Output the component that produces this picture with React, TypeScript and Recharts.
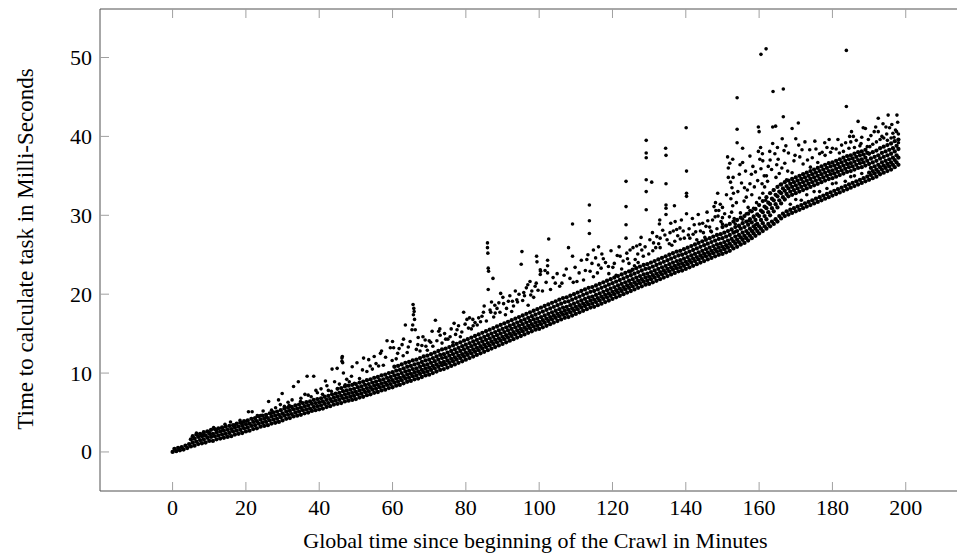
import React from 'react';
import { ScatterChart, Scatter, XAxis, YAxis } from 'recharts';

// ---- axis ticks ----
const xTicks = [0, 20, 40, 60, 80, 100, 120, 140, 160, 180, 200];
const yTicks = [0, 10, 20, 30, 40, 50];
const xDomain: [number, number] = [-19.8, 217.8];
const yDomain: [number, number] = [-4.95, 56.15];

const xTitle = 'Global time since beginning of the Crawl in Minutes';
const yTitle = 'Time to calculate task in Milli-Seconds';

// ---- sample grids (minutes) ----
const minutesWhole = [
  0,1,2,3,4,5,6,7,8,9,10,11,12,13,14,15,16,17,18,19,20,21,22,23,24,25,26,27,28,29,
  30,31,32,33,34,35,36,37,38,39,40,41,42,43,44,45,46,47,48,49,50,51,52,53,54,55,56,57,58,59,
  60,61,62,63,64,65,66,67,68,69,70,71,72,73,74,75,76,77,78,79,80,81,82,83,84,85,86,87,88,89,
  90,91,92,93,94,95,96,97,98,99,100,101,102,103,104,105,106,107,108,109,110,111,112,113,114,115,116,117,118,119,
  120,121,122,123,124,125,126,127,128,129,130,131,132,133,134,135,136,137,138,139,140,141,142,143,144,145,146,147,148,149,
  150,151,152,153,154,155,156,157,158,159,160,161,162,163,164,165,166,167,168,169,170,171,172,173,174,175,176,177,178,179,
  180,181,182,183,184,185,186,187,188,189,190,191,192,193,194,195,196,197,198,
];
const minutesHalf = [
  0.5,1.5,2.5,3.5,4.5,5.5,6.5,7.5,8.5,9.5,10.5,11.5,12.5,13.5,14.5,15.5,16.5,17.5,18.5,19.5,
  20.5,21.5,22.5,23.5,24.5,25.5,26.5,27.5,28.5,29.5,30.5,31.5,32.5,33.5,34.5,35.5,36.5,37.5,38.5,39.5,
  40.5,41.5,42.5,43.5,44.5,45.5,46.5,47.5,48.5,49.5,50.5,51.5,52.5,53.5,54.5,55.5,56.5,57.5,58.5,59.5,
  60.5,61.5,62.5,63.5,64.5,65.5,66.5,67.5,68.5,69.5,70.5,71.5,72.5,73.5,74.5,75.5,76.5,77.5,78.5,79.5,
  80.5,81.5,82.5,83.5,84.5,85.5,86.5,87.5,88.5,89.5,90.5,91.5,92.5,93.5,94.5,95.5,96.5,97.5,98.5,99.5,
  100.5,101.5,102.5,103.5,104.5,105.5,106.5,107.5,108.5,109.5,110.5,111.5,112.5,113.5,114.5,115.5,116.5,117.5,118.5,119.5,
  120.5,121.5,122.5,123.5,124.5,125.5,126.5,127.5,128.5,129.5,130.5,131.5,132.5,133.5,134.5,135.5,136.5,137.5,138.5,139.5,
  140.5,141.5,142.5,143.5,144.5,145.5,146.5,147.5,148.5,149.5,150.5,151.5,152.5,153.5,154.5,155.5,156.5,157.5,158.5,159.5,
  160.5,161.5,162.5,163.5,164.5,165.5,166.5,167.5,168.5,169.5,170.5,171.5,172.5,173.5,174.5,175.5,176.5,177.5,178.5,179.5,
  180.5,181.5,182.5,183.5,184.5,185.5,186.5,187.5,188.5,189.5,190.5,191.5,192.5,193.5,194.5,195.5,196.5,197.5,
];

// ---- dense band, read as strands (ms) ----
const bandA = [ // on minutesWhole from 0
  0.0,0.1,0.2,0.3,0.5,0.7,0.8,1.0,1.1,1.2,
  1.4,1.4,1.6,1.7,1.8,1.9,2.0,2.2,2.3,2.4,
  2.6,2.7,2.9,3.0,3.2,3.3,3.4,3.6,3.7,3.8,
  4.0,4.2,4.3,4.5,4.6,4.7,4.9,5.0,5.2,5.3,
  5.4,5.5,5.7,5.8,6.0,6.1,6.2,6.4,6.5,6.6,
  6.7,6.9,7.0,7.2,7.3,7.5,7.6,7.8,7.9,8.1,
  8.2,8.4,8.5,8.7,8.9,9.0,9.2,9.3,9.5,9.7,
  9.8,10.0,10.2,10.4,10.5,10.7,10.9,11.1,11.3,11.5,
  11.7,11.9,12.1,12.3,12.5,12.7,12.9,13.1,13.3,13.5,
  13.7,13.9,14.1,14.3,14.5,14.7,14.9,15.1,15.3,15.5,
  15.6,15.8,16.0,16.2,16.4,16.6,16.8,17.0,17.1,17.3,
  17.5,17.7,17.9,18.1,18.3,18.4,18.6,18.8,19.0,19.2,
  19.4,19.6,19.8,20.0,20.2,20.4,20.6,20.8,21.0,21.2,
  21.3,21.5,21.7,21.9,22.1,22.3,22.5,22.7,22.9,23.0,
  23.2,23.4,23.6,23.8,24.0,24.2,24.4,24.6,24.8,25.0,
  25.1,25.3,25.5,25.8,26.0,26.3,26.5,26.8,27.1,27.4,
  27.7,28.0,28.3,28.6,28.9,29.2,29.6,29.9,30.1,30.3,
  30.5,30.7,30.9,31.1,31.3,31.5,31.7,31.9,32.1,32.3,
  32.5,32.7,32.9,33.1,33.3,33.5,33.7,33.9,34.1,34.3,
  34.5,34.7,34.9,35.2,35.4,35.6,35.8,36.1,36.4,
];
const bandB = [ // on minutesHalf from 0.5
  0.4,0.5,0.6,0.8,1.0,1.2,1.3,1.5,1.6,1.8,
  1.9,2.0,2.1,2.2,2.3,2.4,2.6,2.7,2.8,3.0,
  3.1,3.3,3.4,3.6,3.7,3.8,4.0,4.1,4.2,4.4,
  4.6,4.7,4.8,5.0,5.1,5.3,5.4,5.5,5.7,5.8,
  5.9,6.1,6.2,6.4,6.5,6.6,6.8,6.9,7.0,7.1,
  7.3,7.4,7.6,7.7,7.9,8.0,8.2,8.3,8.5,8.6,
  8.8,8.9,9.1,9.3,9.4,9.6,9.7,9.9,10.1,10.2,
  10.4,10.6,10.8,11.0,11.1,11.3,11.5,11.7,11.9,12.1,
  12.3,12.5,12.7,12.9,13.1,13.3,13.5,13.7,13.9,14.1,
  14.3,14.5,14.7,14.9,15.1,15.3,15.5,15.7,15.9,16.0,
  16.2,16.4,16.6,16.8,17.0,17.2,17.4,17.5,17.7,17.9,
  18.1,18.3,18.5,18.7,18.8,19.0,19.2,19.4,19.6,19.8,
  20.0,20.2,20.4,20.6,20.8,21.0,21.2,21.4,21.6,21.7,
  21.9,22.1,22.3,22.5,22.7,22.9,23.1,23.3,23.4,23.6,
  23.8,24.0,24.2,24.4,24.6,24.8,25.0,25.2,25.4,25.5,
  25.7,25.9,26.1,26.4,26.6,26.9,27.1,27.4,27.7,28.0,
  28.3,28.6,28.9,29.2,29.5,29.9,30.2,30.5,30.7,30.9,
  31.1,31.3,31.5,31.7,31.9,32.1,32.3,32.5,32.7,32.9,
  33.1,33.3,33.5,33.7,33.9,34.1,34.3,34.5,34.7,34.9,
  35.1,35.3,35.5,35.8,36.0,36.2,36.4,36.7,
];
const bandC = [ // on minutesWhole from 5
  1.6,1.7,1.9,2.0,2.1,2.3,2.3,2.5,2.6,2.7,
  2.8,2.9,3.1,3.2,3.3,3.5,3.6,3.8,3.9,4.1,
  4.2,4.3,4.5,4.6,4.7,4.9,5.1,5.2,5.4,5.5,
  5.6,5.8,5.9,6.1,6.2,6.3,6.4,6.6,6.7,6.9,
  7.0,7.1,7.3,7.4,7.5,7.6,7.8,7.9,8.1,8.2,
  8.4,8.5,8.7,8.8,9.0,9.1,9.3,9.4,9.6,9.8,
  9.9,10.1,10.2,10.4,10.6,10.7,10.9,11.1,11.3,11.4,
  11.6,11.8,12.0,12.2,12.4,12.6,12.8,13.0,13.2,13.4,
  13.6,13.8,14.0,14.2,14.4,14.6,14.8,15.0,15.2,15.4,
  15.6,15.8,16.0,16.2,16.4,16.5,16.7,16.9,17.1,17.3,
  17.5,17.7,17.9,18.0,18.2,18.4,18.6,18.8,19.0,19.2,
  19.3,19.5,19.7,19.9,20.1,20.3,20.5,20.7,20.9,21.1,
  21.3,21.5,21.7,21.9,22.1,22.2,22.4,22.6,22.8,23.0,
  23.2,23.4,23.6,23.8,23.9,24.1,24.3,24.5,24.7,24.9,
  25.1,25.3,25.5,25.7,25.9,26.0,26.2,26.4,26.7,26.9,
  27.2,27.4,27.7,28.0,28.3,28.6,29.0,29.5,30.0,30.5,
  31.0,31.5,32.0,32.4,32.6,32.8,33.0,33.2,33.4,33.6,
  33.8,34.0,34.2,34.4,34.6,34.7,34.9,35.1,35.3,35.5,
  35.6,35.8,36.0,36.1,36.3,35.4,35.6,35.8,36.1,36.3,
  36.5,36.7,37.0,37.3,
];
const bandD = [ // on minutesHalf from 5.5
  2.0,2.2,2.3,2.5,2.6,2.8,2.9,3.0,3.1,3.2,
  3.3,3.4,3.6,3.7,3.9,4.0,4.2,4.3,4.5,4.6,
  4.7,4.9,5.0,5.1,5.3,5.5,5.6,5.7,5.9,6.0,
  6.2,6.3,6.4,6.6,6.7,6.8,7.0,7.1,7.3,7.4,
  7.5,7.7,7.8,7.9,8.0,8.2,8.3,8.5,8.6,8.8,
  8.9,9.1,9.2,9.4,9.5,9.7,9.8,10.0,10.2,10.3,
  10.5,10.6,10.8,11.0,11.1,11.3,11.5,11.7,11.9,12.0,
  12.2,12.4,12.6,12.8,13.0,13.2,13.4,13.6,13.8,14.0,
  14.2,14.4,14.6,14.8,15.0,15.2,15.4,15.6,15.8,16.0,
  16.2,16.4,16.6,16.8,16.9,17.1,17.3,17.5,17.7,17.9,
  18.1,18.3,18.4,18.6,18.8,19.0,19.2,19.4,19.6,19.7,
  19.9,20.1,20.3,20.5,20.7,20.9,21.1,21.3,21.5,21.7,
  21.9,22.1,22.3,22.5,22.6,22.8,23.0,23.2,23.4,23.6,
  23.8,24.0,24.2,24.3,24.5,24.7,24.9,25.1,25.3,25.5,
  25.7,25.9,26.1,26.3,26.4,26.6,26.8,27.0,27.3,27.5,
  27.8,28.0,28.3,28.6,28.9,29.4,29.9,30.4,30.9,31.4,
  31.9,32.3,32.7,33.0,33.2,33.4,33.6,33.8,34.0,34.2,
  34.4,34.6,34.8,35.0,35.2,35.3,35.5,35.7,35.9,36.1,
  36.2,36.4,36.6,36.7,36.9,36.0,36.2,36.4,36.7,36.9,
  37.1,37.3,37.6,
];
const bandE = [ // on minutesWhole from 45
  8.0,8.1,8.3,8.4,8.5,8.6,8.8,8.9,9.1,9.2,
  9.4,9.5,9.7,9.8,10.0,10.1,10.3,10.4,10.6,10.8,
  10.9,11.1,11.2,11.4,11.6,11.7,11.9,12.1,12.3,12.4,
  12.6,12.8,13.0,13.2,13.4,13.6,13.8,14.0,14.2,14.4,
  14.6,14.8,15.0,15.2,15.4,15.6,15.8,16.0,16.2,16.4,
  16.6,16.8,17.0,17.2,17.4,17.6,17.8,18.0,18.2,18.4,
  18.6,18.8,19.0,19.1,19.3,19.5,19.7,19.9,20.1,20.3,
  20.4,20.6,20.8,21.0,21.2,21.4,21.6,21.8,22.0,22.2,
  22.4,22.6,22.8,23.0,23.2,23.3,23.5,23.7,23.9,24.1,
  24.3,24.5,24.7,24.9,25.0,25.2,25.4,25.6,25.8,26.0,
  26.2,26.4,26.6,26.8,27.0,27.1,27.3,27.5,27.8,28.0,
  28.3,28.5,28.8,29.1,29.4,29.9,30.4,30.9,31.4,31.9,
  32.4,32.8,33.1,33.4,33.6,33.8,34.0,34.2,34.4,34.6,
  34.8,35.0,35.2,35.4,35.6,35.7,35.9,36.1,36.3,36.5,
  36.6,36.8,37.0,37.1,37.3,36.5,36.7,36.9,37.2,37.4,
  37.6,37.8,38.1,38.4,
];
const bandF = [ // on minutesHalf from 60.5
  10.8,10.9,11.1,11.3,11.4,11.6,11.7,11.9,12.1,12.2,
  12.4,12.6,12.8,13.0,13.1,13.3,13.5,13.7,13.9,14.1,
  14.3,14.5,14.7,14.9,15.1,15.3,15.5,15.7,15.9,16.1,
  16.3,16.5,16.7,16.9,17.1,17.3,17.5,17.7,17.9,18.1,
  18.3,18.5,18.7,18.9,19.1,19.3,19.5,19.6,19.8,20.0,
  20.2,20.4,20.6,20.8,20.9,21.1,21.3,21.5,21.7,21.9,
  22.1,22.3,22.5,22.7,22.9,23.1,23.3,23.5,23.7,23.8,
  24.0,24.2,24.4,24.6,24.8,25.0,25.2,25.4,25.5,25.7,
  25.9,26.1,26.3,26.5,26.7,26.9,27.1,27.3,27.5,27.6,
  27.8,28.0,28.2,28.5,28.7,29.0,29.2,29.5,29.8,30.1,
  30.6,31.1,31.6,32.1,32.6,33.0,33.4,33.7,34.0,34.2,
  34.4,34.6,34.8,35.0,35.2,35.4,35.6,35.8,36.0,36.2,
  36.3,36.5,36.7,36.9,37.1,37.2,37.4,37.6,37.7,37.9,
  37.2,37.4,37.6,37.9,38.1,38.3,38.5,38.8,
];
const bandG = [ // on minutesWhole from 150
  28.5,28.7,28.9,29.2,29.4,29.7,29.9,30.2,30.5,30.8,
  31.3,31.8,32.3,32.8,33.2,33.6,33.9,34.2,34.4,34.6,
  34.8,35.0,35.2,35.4,35.6,35.8,36.0,36.2,36.4,36.6,
  36.7,36.9,37.1,37.3,37.5,37.6,37.8,38.0,38.1,38.3,
  37.8,38.0,38.2,38.5,38.7,38.9,39.1,39.4,39.6,
];

// ---- scattered points around and above the band: [minute, ms] ----
const scatteredEarly: [number, number][] = [
  [6.5,2.4],[8.5,2.2],[10,2.5],[12,2.8],[13.5,3.0],[15.8,3.8],[17,3.4],[19,3.6],[20.7,5.1],[21.7,5.1],
  [22.5,4.2],[24,4.6],[25.5,4.5],[26.2,6.4],[27,5.3],[28.9,6.6],[29.9,7.4],[30.5,5.8],[31.5,6.3],[33,8.3],
  [34.3,8.9],[35,6.8],[36.7,9.6],[37,7.2],[38.5,9.6],[39.5,7.5],[40.5,8.0],[41.7,9.0],[42.5,7.8],[43.5,10.5],
  [44.9,10.6],[45.5,8.6],[46.2,11.5],[46.2,11.9],[46.3,12.1],[46.4,11.3],[46.6,10.0],[47.5,9.2],[48.2,8.9],[49,10.8],
  [50.3,11.3],[51,9.3],
  [11.2,3.1],[14.3,3.5],[16.8,3.2],[18.4,4.0],[20.2,3.9],[23.1,4.6],[24.7,5.2],[26.9,4.9],[28.1,5.6],[29.4,6.0],
  [31.8,5.9],[32.6,6.6],[34.9,6.4],[36.1,7.3],[37.8,7.0],[39.1,7.8],[40.9,7.3],[42.1,8.4],[43.3,7.7],[44.2,8.9],
  [47.1,8.5],[48.8,9.6],[49.6,8.7],
];
const scatteredMid: [number, number][] = [
  [52.1,11.9],[53,10.2],[53.5,11.7],[54.5,10.5],[55,12.1],[55.5,11.2],[56.7,12.5],[57,12.8],[57.5,11.0],[58.5,14.1],
  [59.4,13.2],[60,14.0],[60.3,13.2],[61,11.8],[61.8,13.1],[62.6,13.6],[63,14.3],[63.5,16.1],[64,12.6],[64.8,14.0],
  [65.3,15.5],[65.5,16.1],[65.6,18.7],[65.8,18.2],[65.9,17.8],[65.7,17.4],[66,16.8],[66.2,15.5],[66.5,13.0],[67,14.5],
  [67.5,12.8],[68,13.5],[68.9,14.2],[69.5,12.9],[70,14.1],[70.8,15.3],[71,13.4],[71.7,16.7],[72.6,15.3],[73,14.8],
  [73.5,13.8],[74.5,14.3],[75.7,14.6],[76,15.6],[76.5,13.9],[77.6,15.5],[78,16.0],[78.5,14.6],[79.4,17.7],[79.8,16.2],
  [80.3,16.8],[81,17.0],[81.5,15.6],[82,16.0],[82.5,16.4],[83.5,17.0],[84,16.5],[84.8,17.7],[85,18.5],[85.9,26.5],
  [85.9,25.9],[86.0,25.2],[86.1,23.3],[86.2,22.9],[87.4,22.0],[86.1,20.6],[86.6,18.0],[87,19.0],[87.6,17.1],[88,17.6],
  [88.5,18.2],[89,18.9],[89.5,20.1],[90.3,18.8],[90.8,17.4],[91.6,19.1],[92,19.8],[92.5,17.8],[93,18.5],[93.9,19.3],
  [94.5,20.0],[95.1,23.8],[95.3,25.4],[95.5,19.2],[96,19.8],[96.5,20.8],[97,18.6],[97.5,21.6],[98,20.4],[98.5,19.6],
  [99.2,21.4],[99.3,24.8],[99.4,24.1],[100.4,22.9],[101.6,23.0],[102.6,27.0],
  [51.8,10.4],[53.9,10.9],[56.2,10.9],[58.1,12.0],[59.9,11.6],[61.4,12.5],[62.9,12.2],[64.3,13.3],[66.9,13.6],[68.3,14.6],
  [69.1,13.4],[70.4,13.9],[72.1,14.1],[72.9,15.6],[74.2,15.0],[75.1,14.3],[76.8,16.3],[77.2,14.9],[78.9,15.2],[80.7,15.7],
  [81.9,16.8],[83.1,16.1],[84.4,17.2],[85.6,16.6],[86.8,17.7],[87.9,18.6],[89.3,17.7],[90.1,19.6],[91.1,18.2],[92.7,19.1],
  [93.5,20.4],[94.1,19.0],[95.8,20.2],[96.9,21.2],[97.7,19.9],[98.9,21.0],[99.7,20.5],
];
const scatteredLate: [number, number][] = [
  [100.3,23.1],[100.3,22.5],[102.3,24.3],[102.3,23.6],[102.3,22.7],[104.4,21.4],[106.2,21.4],[108,25.9],[109.1,24.8],[109.1,28.9],
  [109.3,21.5],[110.3,21.6],[112.1,21.8],[113,24.4],[113.7,31.3],[113.7,29.3],[113.7,27.7],[113.9,22.9],[114.4,23.9],[114.8,25.6],
  [114.8,22.2],[116.2,26.0],[116.2,23.7],[116.9,23.3],[117.5,24.5],[118.9,23.5],[119,22.6],[120.5,23.9],[121,22.4],[121.3,24.9],
  [122.1,24.8],[122.5,23.2],[123.7,34.3],[123.7,31.1],[123.7,28.8],[123.7,27.1],[123.9,25.2],[124.5,23.9],[124.8,25.6],[125,22.9],
  [126,23.6],[126.2,24.4],[126.6,26.1],[127,24.0],[127.5,26.3],[128,25.6],[128.4,24.8],[129.2,39.5],[129.2,37.9],[129.2,37.3],
  [129.2,34.5],[129.2,33.0],[129.2,30.7],[130.2,26.9],[130.7,34.2],[131,25.5],[131.2,26.5],[132.1,27.3],[132.9,29.4],[132.8,28.9],
  [133,27.1],[133,25.9],[134.3,27.5],[134.5,38.5],[134.6,37.6],[134.6,34.0],[134.6,31.3],[134.6,30.9],[134.6,30.1],[135.5,26.4],
  [135.7,27.8],[136.6,28.0],[136.9,31.2],[137,26.7],[137.1,29.2],[137.5,28.2],[138.4,28.4],[138.5,27.0],[139.3,28.0],[140.1,41.1],
  [140.2,35.6],[140.2,32.8],[140.2,32.4],[140.2,30.2],[140.7,27.5],[141.1,27.1],[142,27.6],[142.3,28.8],[143,26.9],[143.7,28.9],
  [144,28.0],[144.8,27.8],[145.2,27.2],[145.5,28.6],[146,29.3],[146.5,28.5],[147,27.9],[147.7,31.1],[148,29.8],[148.2,30.6],
  [148.5,28.3],[148.7,32.8],[148.8,29.9],[149,30.6],[149.4,31.4],[150,29.7],[150,31.0],[150,28.9],
  [100.9,20.4],[101.9,21.5],[103.1,20.6],[103.8,22.1],[104.9,22.6],[105.6,21.0],[106.8,22.4],[107.4,23.2],[108.4,22.0],[109.8,23.4],
  [110.9,22.7],[111.5,24.3],[112.6,23.0],[113.3,25.0],[115.4,24.6],[115.9,22.7],[117.1,25.1],[118.1,24.0],[119.6,25.5],[120.1,23.4],
  [121.8,26.0],[122.9,24.2],[124.1,24.5],[125.6,25.9],[126.9,25.1],[127.8,27.2],[128.9,26.0],[129.9,25.1],[130.9,27.8],[131.8,25.9],
  [132.6,26.4],[133.7,28.1],[134.9,26.9],[135.9,29.0],[136.2,26.2],[137.8,27.4],[138.8,29.4],[139.6,27.1],[140.9,28.3],[141.8,29.6],
  [142.7,27.9],[143.4,30.1],[144.6,29.0],[145.8,30.4],[146.8,28.0],[147.3,29.4],[148.1,31.6],[149.6,29.2],
];
const scatteredEnd: [number, number][] = [
  [151.4,37.4],[152,36.6],[151.6,36.0],[151.6,34.8],[152.2,34.2],[152.6,33.5],[153,32.8],[152.3,32.1],[152.8,31.2],[152.5,30.4],
  [153.2,29.6],[153.5,28.9],[153.5,27.9],[154.5,28.6],[155.5,29.5],[156.5,30.2],[157.5,30.6],[158.5,29.9],[159,28.8],[158.2,28.0],
  [154.8,36.4],[154.6,35.2],[154,44.9],[154,40.9],[154,39.2],[155.5,38.5],[152.8,37.1],[155.5,36.7],[156,33.5],[156.5,32.3],
  [157,31.0],[157.5,34.0],[157.5,37.5],[158,32.6],[158.3,36.2],[158.5,30.9],[159,35.5],[159.8,41.2],[160,40.6],[159.8,38.1],
  [160.4,38.6],[160.2,37.1],[160.5,50.4],[161.9,51.1],[160.5,35.9],[160.8,34.0],[161,32.8],[161,36.9],[161.5,33.6],[162,35.0],
  [162.5,36.2],[163,37.0],[163.7,41.2],[163.7,39.1],[164.5,41.3],[164.3,37.8],[164.8,36.4],[163.8,45.7],[165,38.6],[165.5,35.3],
  [166.6,46.0],[166.6,42.5],[166.3,39.7],[166.8,38.2],[167,36.6],[167.5,34.5],[168,37.9],[169,41.0],[169,35.4],[169.5,36.9],
  [170,39.7],[170,32.0],[170.7,41.7],[170.8,38.9],[171.1,37.4],[172,36.5],[172.5,39.3],[173.8,38.3],[174,36.1],[174.5,37.3],
  [175,33.0],[175.5,38.4],[176,36.7],[176.5,37.8],[177.9,39.2],[178,37.6],[178.5,38.6],[179.5,38.0],[180,38.5],[180,34.0],
  [181,38.4],[181.5,39.6],[182.5,38.9],[183,38.1],[183.8,50.9],[183.8,43.8],[184.5,38.5],[184.7,40.0],[185,39.3],[185,34.9],
  [185.2,40.6],[186,38.6],[186.5,39.5],[187,41.9],[187.5,38.8],[188,39.9],[188.4,41.1],[189,41.0],[189.5,38.7],[189.8,39.6],
  [190.5,40.1],[191,39.0],[191.4,40.6],[192,39.3],[192.5,40.6],[192.5,42.3],[193,39.6],[193.5,40.0],[194,39.8],[194.6,41.2],
  [195,39.5],[195.2,42.7],[195.6,41.1],[196,39.8],[196.5,40.4],[196.8,39.9],[197.2,40.8],[197.5,40.6],[197.6,42.7],[197.8,41.8],
  [198,40.3],[198,39.2],
  [168.5,31.4],[171.5,31.9],[173,32.6],[176.5,33.0],[178.5,33.4],[181,34.1],[183.5,34.3],[186,35.0],[188,35.3],
  [150.6,30.2],[151.1,32.6],[151.9,29.8],[152.9,34.8],[153.8,31.6],[154.2,33.0],[154.9,30.3],[155.2,34.1],[155.9,31.8],[156.3,35.6],
  [156.8,33.2],[157.2,29.3],[157.9,35.2],[158.7,33.6],[159.3,31.6],[159.6,34.4],[160.1,32.2],[160.9,37.8],[161.4,35.0],[161.8,31.9],
  [162.3,34.3],[162.9,38.1],[163.4,35.8],[163.9,33.2],[164.6,34.8],[165.2,37.1],[165.8,33.9],[166.2,36.0],[167.3,38.8],[167.8,35.6],
  [169.8,37.6],[171.7,38.3],[173.2,37.0],[175.2,39.4],[177.2,38.0],[179.1,39.6],[181.9,37.9],[183.6,39.2],[185.7,40.0],[187.8,39.1],
  [190.2,38.7],[191.8,41.2],[193.8,41.6],[194.8,40.3],[196.2,41.5],
];

// ---- build the point tables from the arrays ----
type Pt = { x: number; y: number };
const strands: { grid: number[]; from: number; values: number[] }[] = [
  { grid: minutesWhole, from: 0, values: bandA },
  { grid: minutesHalf, from: 0, values: bandB },
  { grid: minutesWhole, from: 5, values: bandC },
  { grid: minutesHalf, from: 5, values: bandD },
  { grid: minutesWhole, from: 45, values: bandE },
  { grid: minutesHalf, from: 60, values: bandF },
  { grid: minutesWhole, from: 150, values: bandG },
];
const bandPoints: Pt[] = [];
strands.forEach((s) => {
  s.values.forEach((v, i) => {
    const x = s.grid[s.from + i];
    if (x !== undefined) bandPoints.push({ x, y: v });
  });
});
const scatterPoints: Pt[] = [];
[scatteredEarly, scatteredMid, scatteredLate, scatteredEnd].forEach((list) =>
  list.forEach(([x, y]) => scatterPoints.push({ x, y }))
);

// ---- styling / layout ----
const FONT = '"Liberation Serif", "Times New Roman", serif';
const FS = 22;
const AXIS = '#505050';
const TICK = '#a0a0a0';
const PLOT = { left: 92, top: 1, right: 963, bottom: 483 };

const BottomTick = (props: any) => {
  const { x, payload } = props;
  return (
    <g>
      <line x1={x} x2={x} y1={PLOT.bottom} y2={PLOT.bottom - 9} stroke={TICK} strokeWidth={1} />
      <text x={x} y={PLOT.bottom + 24} textAnchor="middle" fontFamily={FONT} fontSize={FS} fill="#000">
        {payload.value}
      </text>
    </g>
  );
};
const TopTick = (props: any) => {
  const { x } = props;
  return <line x1={x} x2={x} y1={PLOT.top} y2={PLOT.top + 9} stroke={TICK} strokeWidth={1} />;
};
const LeftTick = (props: any) => {
  const { y, payload } = props;
  return (
    <g>
      <line x1={PLOT.left} x2={PLOT.left + 9} y1={y} y2={y} stroke={TICK} strokeWidth={1} />
      <text x={PLOT.left - 8} y={y + 7.5} textAnchor="end" fontFamily={FONT} fontSize={FS} fill="#000">
        {payload.value}
      </text>
    </g>
  );
};
const RightTick = (props: any) => {
  const { y } = props;
  return <line x1={PLOT.right} x2={PLOT.right - 9} y1={y} y2={y} stroke={TICK} strokeWidth={1} />;
};
const XTitle = () => (
  <text x={(PLOT.left + PLOT.right) / 2} y={540} textAnchor="middle" fontFamily={FONT} fontSize={FS} fill="#000">
    {xTitle}
  </text>
);
const YTitle = () => {
  const cx = 25;
  const cy = (PLOT.top + PLOT.bottom) / 2 - 1;
  return (
    <text x={cx} y={cy} transform={`rotate(-90 ${cx} ${cy})`} textAnchor="middle" fontFamily={FONT} fontSize={23} fill="#000">
      {yTitle}
    </text>
  );
};
const BandDot = (props: any) => {
  const { cx, cy } = props;
  if (cx == null || cy == null) return null;
  return <circle cx={cx} cy={cy} r={2.15} fill="#000" />;
};
const Dot = (props: any) => {
  const { cx, cy } = props;
  if (cx == null || cy == null) return null;
  return <circle cx={cx} cy={cy} r={1.8} fill="#000" />;
};

export default function App() {
  return (
    <div style={{ width: 957, height: 546, overflow: 'hidden' }}>
      <ScatterChart width={975} height={546} margin={{ top: 0, right: 0, bottom: 23, left: 32 }}>
        <XAxis
          xAxisId="b"
          type="number"
          dataKey="x"
          domain={xDomain}
          ticks={xTicks}
          interval={0}
          allowDataOverflow
          height={40}
          axisLine={{ stroke: AXIS, strokeWidth: 1 }}
          tickLine={false}
          tick={<BottomTick />}
          label={<XTitle />}
        />
        <XAxis
          xAxisId="t"
          orientation="top"
          type="number"
          dataKey="x"
          domain={xDomain}
          ticks={xTicks}
          interval={0}
          allowDataOverflow
          height={1}
          axisLine={{ stroke: AXIS, strokeWidth: 1 }}
          tickLine={false}
          tick={<TopTick />}
        />
        <YAxis
          yAxisId="l"
          type="number"
          dataKey="y"
          domain={yDomain}
          ticks={yTicks}
          interval={0}
          allowDataOverflow
          width={60}
          axisLine={{ stroke: AXIS, strokeWidth: 1 }}
          tickLine={false}
          tick={<LeftTick />}
          label={<YTitle />}
        />
        <YAxis
          yAxisId="r"
          orientation="right"
          type="number"
          dataKey="y"
          domain={yDomain}
          ticks={yTicks}
          interval={0}
          allowDataOverflow
          width={12}
          axisLine={{ stroke: AXIS, strokeWidth: 1 }}
          tickLine={false}
          tick={<RightTick />}
        />
        <Scatter xAxisId="b" yAxisId="l" data={bandPoints} shape={<BandDot />} isAnimationActive={false} />
        <Scatter xAxisId="b" yAxisId="l" data={scatterPoints} shape={<Dot />} isAnimationActive={false} />
      </ScatterChart>
    </div>
  );
}
